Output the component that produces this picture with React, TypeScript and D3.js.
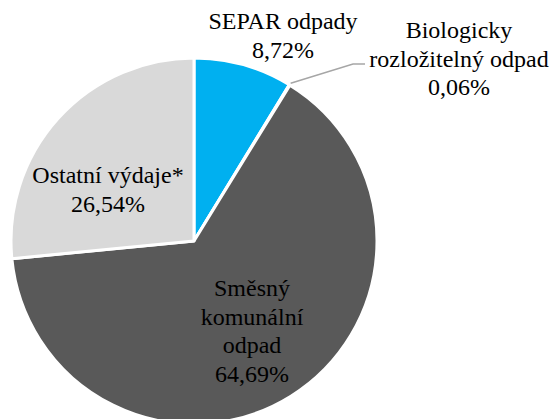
import React from "react";
import * as d3 from "d3";

const categories = ["SEPAR odpady", "Biologicky rozložitelný odpad", "Směsný komunální odpad", "Ostatní výdaje*"];
const shares = [8.72, 0.06, 64.69, 26.54];
const colors = ["#00B0F0", "#A5A5A5", "#595959", "#D9D9D9"];
const labelLines = [
  ["SEPAR odpady", "8,72%"],
  ["Biologicky", "rozložitelný odpad", "0,06%"],
  ["Směsný", "komunální", "odpad", "64,69%"],
  ["Ostatní výdaje*", "26,54%"],
];

const width = 551;
const height = 419;
const cx = 194;
const cy = 241;
const radius = 183;
const fontStack = '"Liberation Serif", "Times New Roman", Tinos, "DejaVu Serif", serif';

// label anchors relative to the pie centre: [x, first baseline]
const labelPos: [number, number][] = [
  [89, -212],
  [265, -203],
  [58, 55],
  [-86, -58],
];

type Datum = { name: string; value: number; color: string; lines: string[] };

export default function App() {
  const data: Datum[] = categories.map((c, i) => ({ name: c, value: shares[i], color: colors[i], lines: labelLines[i] }));
  const pie = d3.pie<Datum>().sort(null).value((d) => d.value);
  const arc = d3.arc<d3.PieArcDatum<Datum>>().innerRadius(0).outerRadius(radius);
  const arcs = pie(data);

  // leader line for the tiny slice
  const tiny = arcs[1];
  const mid = (tiny.startAngle + tiny.endAngle) / 2;
  const leader = d3.line()([
    [Math.sin(mid) * (radius + 2), -Math.cos(mid) * (radius + 2)],
    [159, -177],
    [171, -177],
  ]);

  return (
    <svg width={width} height={height} style={{ position: "absolute", left: 0, top: 0, fontFamily: fontStack }}>
      <g transform={`translate(${cx},${cy})`}>
        {arcs.map((d) => (
          <path key={d.data.name} d={arc(d) || ""} fill={d.data.color} stroke="#fff" strokeWidth={3} strokeLinejoin="round" />
        ))}
        <path d={leader || ""} fill="none" stroke="#A6A6A6" strokeWidth={1.5} />
        {arcs.map((d, i) => (
          <text key={"t" + i} textAnchor="middle" fontSize={24} fill="#000" style={{ fontFamily: fontStack }}>
            {d.data.lines.map((line, j) => (
              <tspan key={j} x={labelPos[i][0]} y={labelPos[i][1] + j * 28.5}>
                {line}
              </tspan>
            ))}
          </text>
        ))}
      </g>
    </svg>
  );
}
